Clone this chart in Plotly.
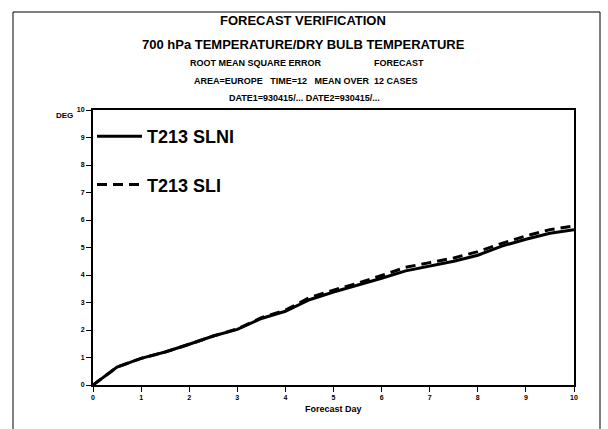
import plotly.graph_objects as go

# Forecast day (12-hourly steps)
days = [0, 0.5, 1, 1.5, 2, 2.5, 3, 3.5, 4, 4.5, 5, 5.5, 6, 6.5, 7, 7.5, 8, 8.5, 9, 9.5, 10]
# RMSE (deg) for each experiment
t213_slni = [0, 0.65, 0.97, 1.2, 1.48, 1.78, 2.02, 2.42, 2.68, 3.1, 3.38, 3.62, 3.88, 4.15, 4.32, 4.5, 4.72, 5.05, 5.3, 5.52, 5.65]
t213_sli = [0, 0.65, 0.97, 1.2, 1.48, 1.78, 2.04, 2.45, 2.72, 3.18, 3.45, 3.7, 3.98, 4.28, 4.45, 4.62, 4.85, 5.15, 5.42, 5.65, 5.78]
x_ticks = [0, 1, 2, 3, 4, 5, 6, 7, 8, 9, 10]
y_ticks = [0, 1, 2, 3, 4, 5, 6, 7, 8, 9, 10]

FONT = "Liberation Sans, Arial, sans-serif"

fig = go.Figure()
fig.add_trace(go.Scatter(x=days, y=t213_slni, mode="lines", name="<b>T213 SLNI</b>",
                         legendgroup="a",
                         line=dict(color="black", width=3)))
fig.add_trace(go.Scatter(x=days, y=t213_sli, mode="lines", name="<b>T213 SLI</b>",
                         legendgroup="b",
                         line=dict(color="black", width=3, dash="10px,6px")))

W, H = 608, 429
L, R, T, B = 93, 34, 110, 44
pw, ph = W - L - R, H - T - B

def px(x):
    return (x - L) / pw

def py(y):
    return (H - B - y) / ph

titles = [
    ("<b>FORECAST VERIFICATION</b>", 303, 21, 13),
    ("<b>700 hPa TEMPERATURE/DRY BULB TEMPERATURE</b>", 303, 44, 13),
    ("<b>ROOT MEAN SQUARE ERROR</b>", 256, 63, 9),
    ("<b>FORECAST</b>", 399, 63, 9),
    ("<b>AREA=EUROPE   TIME=12   MEAN OVER  12 CASES</b>", 306, 81, 9),
    ("<b>DATE1=930415/... DATE2=930415/...</b>", 304, 98, 9),
]
annotations = []
for txt, x, y, s in titles:
    annotations.append(dict(text=txt, x=px(x), y=py(y), xref="paper", yref="paper",
                            xanchor="center", yanchor="middle", showarrow=False,
                            font=dict(family=FONT, size=s, color="black")))
annotations.append(dict(text="<b>DEG</b>", x=px(75), y=py(115), xref="paper", yref="paper",
                        xanchor="right", yanchor="middle", showarrow=False,
                        font=dict(family=FONT, size=8, color="black")))
annotations.append(dict(text="<b>Forecast Day</b>", x=px(333), y=py(409), xref="paper", yref="paper",
                        xanchor="center", yanchor="middle", showarrow=False,
                        font=dict(family=FONT, size=9, color="black")))

shapes = [
    dict(type="line", xref="paper", yref="paper", x0=px(13), x1=px(13), y0=py(12), y1=py(429),
         line=dict(color="black", width=1)),
    dict(type="line", xref="paper", yref="paper", x0=px(13), x1=px(600), y0=py(12), y1=py(12),
         line=dict(color="black", width=1)),
    dict(type="line", xref="paper", yref="paper", x0=px(600), x1=px(600), y0=py(12), y1=py(429),
         line=dict(color="black", width=1)),
]

fig.update_layout(
    width=W, height=H,
    margin=dict(l=L, r=R, t=T, b=B, pad=0),
    paper_bgcolor="white", plot_bgcolor="white",
    font=dict(family=FONT, color="black"),
    showlegend=True,
    legend=dict(x=px(92), y=py(118), xanchor="left", yanchor="top",
                bgcolor="rgba(0,0,0,0)", borderwidth=0,
                font=dict(family=FONT, size=18, color="black"),
                itemwidth=45, tracegroupgap=22),
    annotations=annotations,
    shapes=shapes,
    xaxis=dict(range=[0, 10], tickvals=x_ticks, ticktext=[f"<b>{v}</b>" for v in x_ticks],
               showgrid=False, zeroline=False, showline=True, linecolor="black", linewidth=2,
               mirror=True, ticks="outside", ticklen=5, tickwidth=1, tickcolor="black",
               tickfont=dict(family=FONT, size=7, color="black")),
    yaxis=dict(range=[0, 10], tickvals=y_ticks, ticktext=[f"<b>{v}</b>" for v in y_ticks],
               showgrid=False, zeroline=False, showline=True, linecolor="black", linewidth=2,
               mirror=True, ticks="outside", ticklen=5, tickwidth=1, tickcolor="black",
               tickfont=dict(family=FONT, size=7, color="black")),
)

fig.write_html("out.html")
